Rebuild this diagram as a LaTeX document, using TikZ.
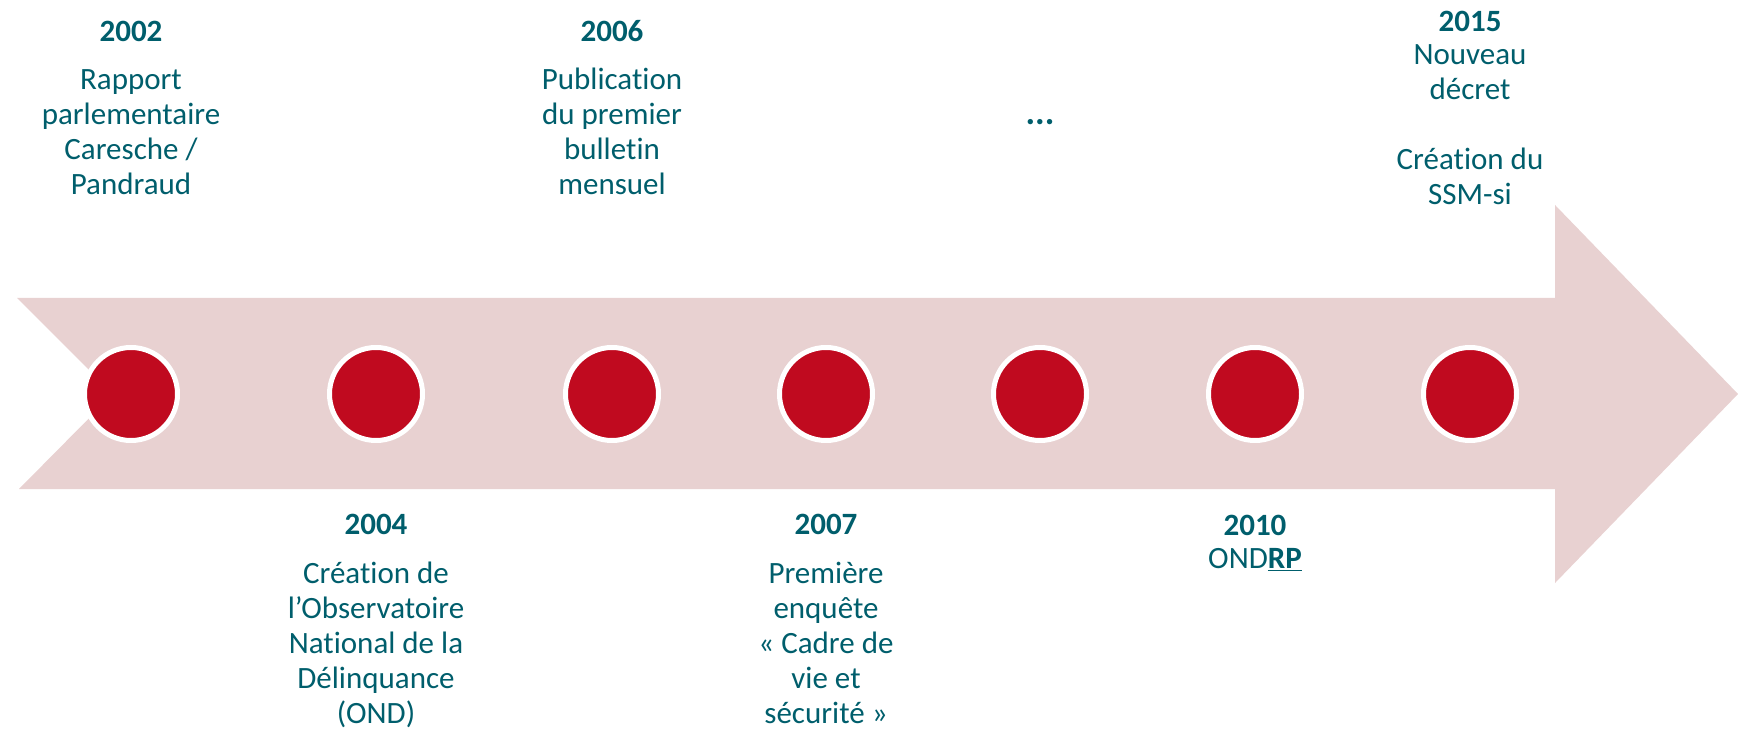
\documentclass[tikz,border=0pt]{standalone}
\usepackage{fontspec}
\setmainfont[Ligatures=NoCommon]{Carlito}
\definecolor{frise}{RGB}{232,209,209}
\definecolor{rougejalon}{RGB}{192,10,31}
\definecolor{encre}{RGB}{0,94,108}
\begin{document}
\begin{tikzpicture}[x=0.5pt,y=-0.5pt,
  annee/.style={font=\bfseries\fontsize{15.5}{17.5}\selectfont,text=encre,inner sep=0pt,anchor=base},
  texte/.style={font=\fontsize{15.5}{17.5}\selectfont,text=encre,inner sep=0pt,align=center,anchor=base},
  jalon/.style={circle,fill=rougejalon,draw=white,line width=2.5pt,inner sep=0pt,minimum size=46.5pt}]
\useasboundingbox (0,0) rectangle (1738,731);
% la frise
\fill[frise] (17,298) -- (1555,298) -- (1555,205) -- (1738,394) -- (1555,583)
  -- (1555,489) -- (19,489) -- (113,394) -- cycle;
% les jalons
\foreach \x [count=\i] in {131,376,612,826,1040,1255,1470}
  \node[jalon] (j\i) at (\x,394) {};
% au-dessus de la frise (base = derniere ligne)
\node[annee] (a2002) at (131,42) {2002};
\node[texte] (t2002) at (131,195) {Rapport\\parlementaire\\Caresche /\\Pandraud};
\node[annee] (a2006) at (612,42) {2006};
\node[texte] (t2006) at (612,195) {Publication\\du premier\\bulletin\\mensuel};
\node[texte,font=\bfseries\fontsize{18}{20}\selectfont] (suite) at (1040,125) {...};
\node[annee] (a2015) at (1470,32) {2015};
\node[texte] (t2015) at (1470,205) {Nouveau\\décret\\[17.5pt]Création du\\SSM-si};
% en dessous
\node[annee] (a2004) at (376,534) {2004};
\node[texte] (t2004) at (376,723) {Création de\\l’Observatoire\\National de la\\Délinquance\\(OND)};
\node[annee] (a2007) at (826,534) {2007};
\node[texte] (t2007) at (826,723) {Première\\enquête\\«~Cadre de\\vie et\\sécurité~»};
\node[annee] (a2010) at (1255,535) {2010};
\node[texte] (t2010) at (1255,568) {OND\underline{\textbf{RP}}};
\end{tikzpicture}
\end{document}
